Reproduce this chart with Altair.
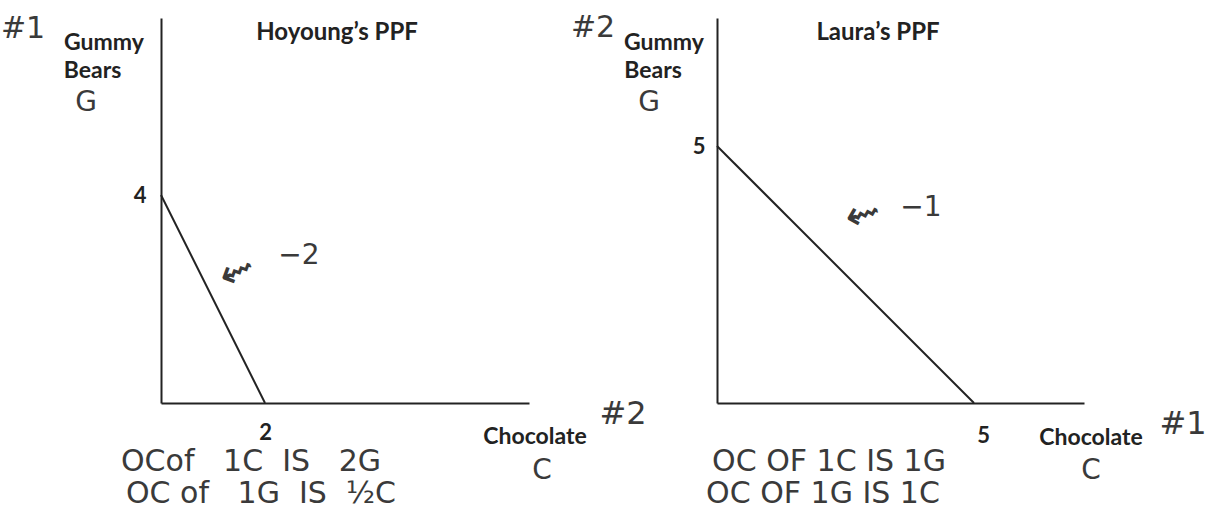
import altair as alt
import pandas as pd

# Production possibilities: (chocolate, gummy bears) endpoints of each frontier
hoyoung_choc = [0, 2]
hoyoung_gummy = [4, 0]
laura_choc = [0, 5]
laura_gummy = [5, 0]

NB = "\u00a0"

# Printed labels around each graph: text, x, y (data units), font size
hoyoung_print_text = ["Hoyoung\u2019s PPF", "Gummy", "Bears", "Chocolate"]
hoyoung_print_x = [3.385, -1.096, -1.317, 7.192]
hoyoung_print_y = [7.115, 6.923, 6.385, -0.654]
hoyoung_print_size = [24, 23, 23, 23]

laura_print_text = ["Laura\u2019s PPF", "Gummy", "Bears", "Chocolate"]
laura_print_x = [3.132, -1.031, -1.245, 7.276]
laura_print_y = [7.198, 7.004, 6.459, -0.681]
laura_print_size = [24, 23, 23, 23]

# Pen notes written on each graph
hoyoung_note_text = ["#1", "G", "\u21dc", "\u22122", "#2", "C",
                     f"OCof{NB}{NB} 1C{NB} IS{NB}{NB} 2G", f"OC of{NB}{NB} 1G{NB} IS{NB} \u00bdC"]
hoyoung_note_x = [-2.654, -1.442, 1.462, 2.654, 8.885, 7.327, 1.731, 1.923]
hoyoung_note_y = [7.192, 5.769, 2.519, 2.827, -0.212, -1.308, -1.135, -1.750]
hoyoung_note_size = [30, 28, 42, 28, 32, 28, 30, 30]
hoyoung_note_angle = [0, 0, 335, 0, 0, 0, 0, 0]

laura_note_text = ["#2", "G", "\u21dc", "\u22121", "#1", "C",
                   "OC OF 1C IS 1G", "OC OF 1G IS 1C"]
laura_note_x = [-2.412, -1.323, 2.840, 3.969, 9.066, 7.276, 2.179, 2.062]
laura_note_y = [7.296, 5.837, 3.658, 3.794, -0.409, -1.323, -1.148, -1.770]
laura_note_size = [30, 28, 42, 28, 32, 28, 30, 30]
laura_note_angle = [0, 0, 345, 0, 0, 0, 0, 0]

PRINT_FONT = "Lato"
HAND_FONT = "DejaVu Sans"
INK = "#222222"
PEN = "#3a3a3a"


def panel(choc, gummy, px_per_unit, width, height,
          pr_text, pr_x, pr_y, pr_size,
          nt_text, nt_x, nt_y, nt_size, nt_angle,
          xlab_pad, ylab_pad, xlab_offset):
    x_scale = alt.Scale(domain=[0, width / px_per_unit], nice=False, zero=False)
    y_scale = alt.Scale(domain=[0, height / px_per_unit], nice=False, zero=False)
    label_style = dict(labelFont=PRINT_FONT, labelFontWeight="bold", labelFontSize=22,
                       labelColor=INK, domainColor=INK, domainWidth=2,
                       ticks=False, grid=False)
    x_axis = alt.Axis(values=[max(choc)], labelPadding=xlab_pad,
                      labelOffset=xlab_offset, **label_style)
    y_axis = alt.Axis(values=[max(gummy)], labelPadding=ylab_pad, **label_style)

    frontier = pd.DataFrame({"x": choc, "y": gummy})
    line = alt.Chart(frontier).mark_line(color=INK, strokeWidth=2).encode(
        x=alt.X("x:Q", scale=x_scale, axis=x_axis, title=None),
        y=alt.Y("y:Q", scale=y_scale, axis=y_axis, title=None),
    )

    printed = pd.DataFrame({"x": pr_x, "y": pr_y, "t": pr_text, "s": pr_size})
    printed_layer = alt.Chart(printed).mark_text(
        font=PRINT_FONT, fontWeight="bold", color=INK, baseline="middle", align="center"
    ).encode(
        x=alt.X("x:Q", scale=x_scale, axis=x_axis, title=None),
        y=alt.Y("y:Q", scale=y_scale, axis=y_axis, title=None),
        text="t:N",
        size=alt.Size("s:Q", scale=None),
    )

    notes = pd.DataFrame({"x": nt_x, "y": nt_y, "t": nt_text, "s": nt_size, "a": nt_angle})
    notes_layer = alt.Chart(notes).mark_text(
        font=HAND_FONT, color=PEN, baseline="middle", align="center"
    ).encode(
        x=alt.X("x:Q", scale=x_scale, axis=x_axis, title=None),
        y=alt.Y("y:Q", scale=y_scale, axis=y_axis, title=None),
        text="t:N",
        size=alt.Size("s:Q", scale=None),
        angle=alt.Angle("a:Q", scale=None),
    )

    return alt.layer(line, printed_layer, notes_layer).properties(width=width, height=height)


left = panel(hoyoung_choc, hoyoung_gummy, 52, 368, 385,
             hoyoung_print_text, hoyoung_print_x, hoyoung_print_y, hoyoung_print_size,
             hoyoung_note_text, hoyoung_note_x, hoyoung_note_y, hoyoung_note_size,
             hoyoung_note_angle, 19, 15, 0)
right = panel(laura_choc, laura_gummy, 51.4, 367, 385,
              laura_print_text, laura_print_x, laura_print_y, laura_print_size,
              laura_note_text, laura_note_x, laura_note_y, laura_note_size,
              laura_note_angle, 22, 12, 9)

chart = alt.hconcat(left, right, spacing=188, bounds="flush").properties(
    padding={"left": 0, "top": 12, "right": 0, "bottom": 0},
    background="white",
).configure_view(stroke=None)

chart.save("out.html", embed_options={"renderer": "svg", "actions": False})
